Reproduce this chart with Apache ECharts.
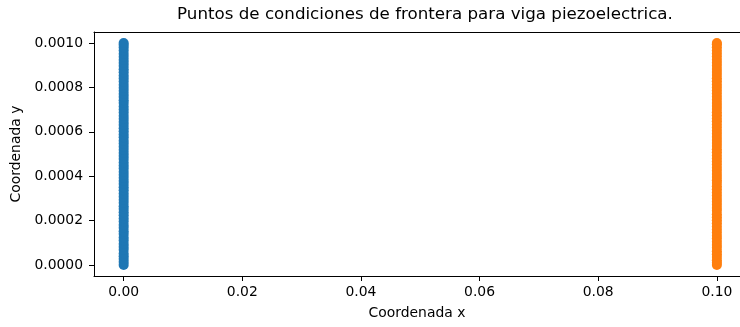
<!DOCTYPE html>
<html>
<head>
<meta charset="utf-8">
<script src="https://cdn.jsdelivr.net/npm/echarts@6/dist/echarts.min.js"></script>
<style>
  html, body { margin: 0; padding: 0; background: #fff; }
  #chart { width: 740px; height: 327px; }
</style>
</head>
<body>
<div id="chart"></div>
<script>
// Boundary-condition points of the piezoelectric beam: left edge (x = 0) and right edge (x = 0.1)
const leftX = 0.0;
const rightX = 0.1;

const leftY = [
  0.0000, 0.0000128, 0.0000261, 0.0000394, 0.0000517, 0.0000683, 0.0000812, 0.0000947,
  0.0001105, 0.0001236, 0.0001389, 0.0001512, 0.0001677, 0.0001803, 0.0001958, 0.0002091,
  0.0002234, 0.0002372, 0.0002519, 0.0002648, 0.0002806, 0.0002941, 0.0003077, 0.0003215,
  0.0003369, 0.0003498, 0.0003652, 0.0003783, 0.0003924, 0.0004066, 0.0004197, 0.0004351,
  0.0004482, 0.0004619, 0.0004773, 0.0004905, 0.0005048, 0.0005186, 0.0005331, 0.0005469,
  0.0005602, 0.0005757, 0.0005884, 0.0006029, 0.0006163, 0.0006311, 0.0006447, 0.0006588,
  0.0006719, 0.0006872, 0.0007004, 0.0007143, 0.0007296, 0.0007421, 0.0007569, 0.0007702,
  0.0007848, 0.0007987, 0.0008124, 0.0008263, 0.0008409, 0.0008538, 0.0008691, 0.0008822,
  0.0008967, 0.0009105, 0.0009238, 0.0009384, 0.0009517, 0.0009662, 0.0009801, 0.0009919,
  0.0010
];

const rightY = [
  0.0000, 0.0000092, 0.0000215, 0.0000358, 0.0000486, 0.0000621, 0.0000775, 0.0000903,
  0.0001042, 0.0001187, 0.0001314, 0.0001462, 0.0001598, 0.0001731, 0.0001874, 0.0002012,
  0.0002153, 0.0002287, 0.0002436, 0.0002571, 0.0002709, 0.0002852, 0.0002987, 0.0003126,
  0.0003268, 0.0003407, 0.0003541, 0.0003689, 0.0003822, 0.0003965, 0.0004101, 0.0004243,
  0.0004378, 0.0004527, 0.0004659, 0.0004801, 0.0004936, 0.0005079, 0.0005214, 0.0005358,
  0.0005493, 0.0005634, 0.0005772, 0.0005916, 0.0006049, 0.0006194, 0.0006327, 0.0006471,
  0.0006606, 0.0006748, 0.0006883, 0.0007027, 0.0007164, 0.0007302, 0.0007445, 0.0007581,
  0.0007723, 0.0007859, 0.0008002, 0.0008137, 0.0008281, 0.0008418, 0.0008556, 0.0008697,
  0.0008834, 0.0008977, 0.0009112, 0.0009253, 0.0009391, 0.0009532, 0.0009668, 0.0009809,
  0.0009947, 0.0010
];

const xTicks = [0.00, 0.02, 0.04, 0.06, 0.08, 0.10];
const yTicks = [0.0000, 0.0002, 0.0004, 0.0006, 0.0008, 0.0010];

const titleText = 'Puntos de condiciones de frontera para viga piezoelectrica.';
const xName = 'Coordenada x';
const yName = 'Coordenada y';

// Visible x window: the axes box runs past the right edge of the canvas
const X_MIN = -0.005;
const X_MAX = 0.1039;

const FONT = 'DejaVu Sans';
const chart = echarts.init(document.getElementById('chart'), null, { renderer: 'canvas' });

chart.setOption({
  animation: false,
  backgroundColor: '#ffffff',
  title: {
    text: titleText,
    left: 420,
    top: 1,
    textAlign: 'center',
    textStyle: { fontFamily: FONT, fontSize: 16.7, fontWeight: 'normal', color: '#000' }
  },
  grid: {
    left: 94, top: 32, right: 0, bottom: 51,
    show: false
  },
  xAxis: [
    {
      type: 'value',
      min: X_MIN, max: X_MAX,
      name: xName,
      nameLocation: 'middle',
      nameGap: 30,
      nameTextStyle: { fontFamily: FONT, fontSize: 13.9, color: '#000' },
      axisLine: { show: true, onZero: false, lineStyle: { color: '#000', width: 1 } },
      axisTick: { show: true, length: 5, customValues: xTicks, lineStyle: { color: '#000' } },
      axisLabel: {
        customValues: xTicks, margin: 9,
        fontFamily: FONT, fontSize: 13.9, color: '#000',
        formatter: v => v.toFixed(2)
      },
      splitLine: { show: false }
    },
    {
      // top spine of the axes box
      type: 'value',
      position: 'top',
      min: X_MIN, max: X_MAX,
      axisLine: { show: true, onZero: false, lineStyle: { color: '#000', width: 1 } },
      axisTick: { show: false },
      axisLabel: { show: false },
      splitLine: { show: false }
    }
  ],
  yAxis: {
    type: 'value',
    min: -0.00005, max: 0.00105,
    name: yName,
    nameLocation: 'middle',
    nameGap: 70,
    nameRotate: 90,
    nameTextStyle: { fontFamily: FONT, fontSize: 13.9, color: '#000' },
    axisLine: { show: true, onZero: false, lineStyle: { color: '#000', width: 1 } },
    axisTick: { show: true, length: 5, customValues: yTicks, lineStyle: { color: '#000' } },
    axisLabel: {
      customValues: yTicks, margin: 11,
      fontFamily: FONT, fontSize: 13.9, color: '#000',
      formatter: v => v.toFixed(4)
    },
    splitLine: { show: false }
  },
  series: [
    {
      type: 'scatter',
      symbol: 'circle',
      symbolSize: 10,
      itemStyle: { color: '#1f77b4', opacity: 1 },
      data: leftY.map(y => [leftX, y])
    },
    {
      type: 'scatter',
      symbol: 'circle',
      symbolSize: 10,
      itemStyle: { color: '#ff7f0e', opacity: 1 },
      data: rightY.map(y => [rightX, y])
    }
  ]
});
</script>
</body>
</html>
